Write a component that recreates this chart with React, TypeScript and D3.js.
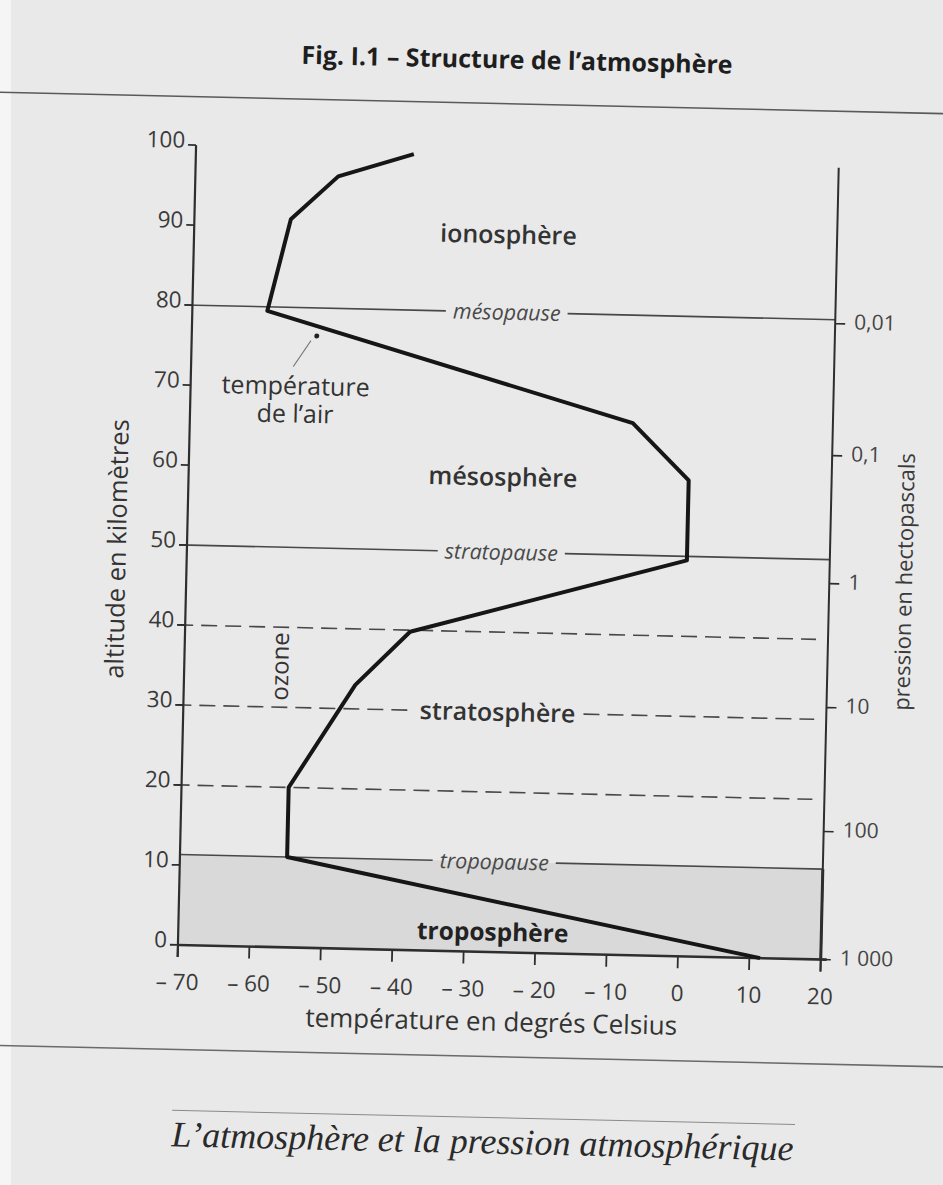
import React, { useEffect, useRef } from 'react';
import * as d3 from 'd3';

const W = 943;
const H = 1185;

// air temperature profile (°C) against altitude (km)
const profileTemp = [11.5, -55, -55, -46, -38.5, 0, 0, -8, -59.5, -56.5, -50, -39.5];
const profileAlt = [0, 11.3, 20, 33, 39.8, 49.5, 59.5, 66.5, 79.5, 91, 96.5, 99.5];

const tempTicks = [-70, -60, -50, -40, -30, -20, -10, 0, 10, 20];
const altTicks = [0, 10, 20, 30, 40, 50, 60, 70, 80, 90, 100];

const pressureLabels = ['1 000', '100', '10', '1', '0,1', '0,01'];
const pressureAlt = [0, 16, 31.5, 47, 63, 79.5];

const pauseNames = ['mésopause', 'stratopause', 'tropopause'];
const pauseAlt = [80, 50, 11.3];
const dashedAlt = [40, 30, 20];

const layerNames = ['ionosphère', 'mésosphère', 'stratosphère', 'troposphère'];
const layerAlt = [89.7, 59.4, 30, 2.5];

const App: React.FC = () => {
  const svgRef = useRef<SVGSVGElement>(null);

  useEffect(() => {
    if (!svgRef.current) return;
    const svg = d3.select(svgRef.current);
    svg.selectAll('*').remove();

    const x = d3.scaleLinear().domain([-70, 20]).range([186, 829]);
    const y = d3.scaleLinear().domain([0, 100]).range([951.5, 151.5]);
    const sans = "'Open Sans', 'DejaVu Sans', sans-serif";
    const ink = '#2e2e2e';
    const x0 = x(-70);
    const x1 = x(20);
    const labelX = x(-26);

    // scanned page background
    svg.append('rect').attr('width', W).attr('height', H).attr('fill', '#e9e9e9');
    svg.append('rect').attr('width', 11).attr('height', H).attr('fill', '#f5f5f5');

    // the scan is slightly tilted
    const page = svg.append('g').attr('transform', 'rotate(1.3 471 592)');

    // title + rules
    page.append('text')
      .attr('x', 505).attr('y', 59).attr('dy', '0.35em')
      .attr('text-anchor', 'middle')
      .style('font-family', sans).style('font-size', '25px').style('font-weight', 700)
      .style('fill', '#1e1e1e')
      .text('Fig. I.1 – Structure de l’atmosphère');

    page.append('line')
      .attr('x1', -40).attr('x2', 990).attr('y1', 103).attr('y2', 103)
      .style('stroke', '#5a5a5a').style('stroke-width', 1.6);

    page.append('line')
      .attr('x1', -40).attr('x2', 990).attr('y1', 1056).attr('y2', 1056)
      .style('stroke', '#6a6a6a').style('stroke-width', 1.6);

    page.append('line')
      .attr('x1', 184).attr('x2', 807).attr('y1', 1117).attr('y2', 1117)
      .style('stroke', '#8a8a8a').style('stroke-width', 1);

    page.append('text')
      .attr('x', 495).attr('y', 1153)
      .attr('text-anchor', 'middle')
      .style('font-family', "'Liberation Serif', 'DejaVu Serif', serif")
      .style('font-style', 'italic').style('font-size', '36px')
      .style('fill', '#2a2a2a')
      .text('L’atmosphère et la pression atmosphérique');

    // troposphere box
    page.append('rect')
      .attr('x', x0).attr('y', y(pauseAlt[2]))
      .attr('width', x1 - x0).attr('height', y(0) - y(pauseAlt[2]))
      .style('fill', '#d9d9d9');
    page.append('line')
      .attr('x1', x1).attr('x2', x1).attr('y1', y(pauseAlt[2])).attr('y2', y(0))
      .style('stroke', ink).style('stroke-width', 3);

    // helper: horizontal line broken around a centred label
    const brokenLine = (
      alt: number, start: number, end: number, label: string | null,
      textStyle: (t: any) => void,
      dashed: boolean, pad: number
    ) => {
      const yy = y(alt);
      let gapL = end;
      let gapR = end;
      if (label) {
        const t = page.append('text')
          .attr('x', labelX).attr('y', yy).attr('dy', '0.35em')
          .attr('text-anchor', 'middle')
          .text(label);
        textStyle(t);
        const w = (t.node() as SVGTextElement).getComputedTextLength();
        gapL = labelX - w / 2 - pad;
        gapR = labelX + w / 2 + pad;
      }
      const segs = label ? [[start, gapL], [gapR, end]] : [[start, end]];
      segs.forEach(([a, b]) => {
        page.append('line')
          .attr('x1', a).attr('x2', b).attr('y1', yy).attr('y2', yy)
          .style('stroke', '#484848').style('stroke-width', 1.6)
          .style('stroke-dasharray', dashed ? '16 8' : null);
      });
    };

    const pauseStyle = (t: any) => t
      .style('font-family', sans).style('font-style', 'italic')
      .style('font-size', '21.5px').style('fill', '#4a4a4a');
    const layerStyle = (t: any) => t
      .style('font-family', sans).style('font-size', '25px')
      .style('font-weight', 600).style('fill', '#333');

    pauseNames.forEach((name, i) => {
      const start = pauseAlt[i] > 20 ? x0 - 8 : x0;
      brokenLine(pauseAlt[i], start, x1, name, pauseStyle, false, 7);
    });

    dashedAlt.forEach(alt => {
      const idx = layerAlt.indexOf(alt);
      brokenLine(alt, x0 - 8, x1 - 12, idx >= 0 ? layerNames[idx] : null, layerStyle, true, 8);
    });

    // other layer names
    layerNames.forEach((name, i) => {
      if (dashedAlt.includes(layerAlt[i])) return;
      const t = page.append('text')
        .attr('x', labelX).attr('y', y(layerAlt[i])).attr('dy', '0.35em')
        .attr('text-anchor', 'middle')
        .text(name);
      layerStyle(t);
      if (i === layerNames.length - 1) t.style('font-weight', 700).style('fill', '#222').style('font-size', '24.5px');
    });

    // left axis
    page.append('line')
      .attr('x1', x0).attr('x2', x0).attr('y1', y(100)).attr('y2', y(0) + 12)
      .style('stroke', ink).style('stroke-width', 2.2);
    altTicks.forEach(t => {
      page.append('line')
        .attr('x1', x0 - 8).attr('x2', x0).attr('y1', y(t)).attr('y2', y(t))
        .style('stroke', ink).style('stroke-width', 1.8);
      page.append('text')
        .attr('x', x0 - 11).attr('y', y(t) - 5).attr('dy', '0.35em')
        .attr('text-anchor', 'end')
        .style('font-family', sans).style('font-size', '22.5px').style('fill', '#3a3a3a')
        .text(t);
    });

    // bottom axis
    page.append('line')
      .attr('x1', x0).attr('x2', x1 + 6).attr('y1', y(0)).attr('y2', y(0))
      .style('stroke', ink).style('stroke-width', 2.6);
    tempTicks.forEach(t => {
      page.append('line')
        .attr('x1', x(t)).attr('x2', x(t)).attr('y1', y(0)).attr('y2', y(0) + 12)
        .style('stroke', ink).style('stroke-width', 1.8);
      page.append('text')
        .attr('x', x(t)).attr('y', y(0) + 37).attr('dy', '0.35em')
        .attr('text-anchor', 'middle')
        .style('font-family', sans).style('font-size', '22.5px').style('fill', '#3a3a3a')
        .text(t < 0 ? `– ${Math.abs(t)}` : `${t}`);
    });

    // right (pressure) axis
    page.append('line')
      .attr('x1', x1).attr('x2', x1).attr('y1', y(99)).attr('y2', y(0) + 12)
      .style('stroke', ink).style('stroke-width', 2);
    pressureLabels.forEach((lab, i) => {
      const yy = y(pressureAlt[i]);
      page.append('line')
        .attr('x1', x1).attr('x2', x1 + 10).attr('y1', yy).attr('y2', yy)
        .style('stroke', ink).style('stroke-width', 1.6);
      page.append('text')
        .attr('x', x1 + 19).attr('y', yy - 2).attr('dy', '0.35em')
        .style('font-family', sans).style('font-size', '21px').style('fill', '#444')
        .text(lab);
    });

    // axis titles
    page.append('text')
      .attr('transform', `translate(116, 557) rotate(-90)`)
      .attr('text-anchor', 'middle').attr('dy', '0.35em')
      .style('font-family', sans).style('font-size', '25.5px').style('fill', '#333')
      .text('altitude en kilomètres');
    page.append('text')
      .attr('transform', `translate(904, 572) rotate(-90)`)
      .attr('text-anchor', 'middle').attr('dy', '0.35em')
      .style('font-family', sans).style('font-size', '22px').style('fill', '#3a3a3a')
      .text('pression en hectopascals');
    page.append('text')
      .attr('x', 501).attr('y', 1021).attr('dy', '0.35em')
      .attr('text-anchor', 'middle')
      .style('font-family', sans).style('font-size', '26px').style('fill', '#333')
      .text('température en degrés Celsius');

    // annotations
    page.append('text')
      .attr('x', x(-55.3)).attr('y', y(70.2)).attr('dy', '0.35em')
      .attr('text-anchor', 'middle')
      .style('font-family', sans).style('font-size', '25px').style('fill', '#333')
      .text('température');
    page.append('text')
      .attr('x', x(-55.3)).attr('y', y(66.7)).attr('dy', '0.35em')
      .attr('text-anchor', 'middle')
      .style('font-family', sans).style('font-size', '25px').style('fill', '#333')
      .text('de l’air');
    page.append('line')
      .attr('x1', x(-55.7)).attr('y1', y(72.6)).attr('x2', x(-53.3)).attr('y2', y(75.9))
      .style('stroke', '#777').style('stroke-width', 1);
    page.append('circle')
      .attr('cx', x(-52.5)).attr('cy', y(76.5)).attr('r', 2.5)
      .style('fill', '#222');

    page.append('text')
      .attr('transform', `translate(${x(-56.6)}, ${y(35.1)}) rotate(-90)`)
      .attr('text-anchor', 'middle').attr('dy', '0.35em')
      .style('font-family', sans).style('font-size', '24px').style('fill', '#333')
      .text('ozone');

    // temperature profile
    const line = d3.line<number>()
      .x((_, i) => x(profileTemp[i]))
      .y(a => y(a));
    page.append('path')
      .datum(profileAlt)
      .attr('d', line)
      .style('fill', 'none')
      .style('stroke', '#161616')
      .style('stroke-width', 4)
      .style('stroke-linejoin', 'round');
  }, []);

  return (
    <svg
      ref={svgRef}
      width={W}
      height={H}
      style={{ position: 'absolute', left: 0, top: 0, display: 'block' }}
    />
  );
};

export default App;
